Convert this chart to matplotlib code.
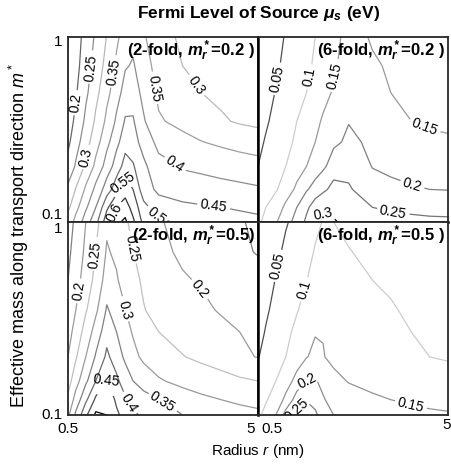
import numpy as np
import matplotlib
matplotlib.use('Agg')
import matplotlib.pyplot as plt
from matplotlib.transforms import ScaledTranslation

plt.rcParams['font.family'] = 'Liberation Sans'
plt.rcParams['mathtext.fontset'] = 'custom'
plt.rcParams['mathtext.rm'] = 'Liberation Sans'
plt.rcParams['mathtext.it'] = 'Liberation Sans:italic'
plt.rcParams['mathtext.bf'] = 'Liberation Sans:bold'
plt.rcParams['mathtext.bfit'] = 'Liberation Sans:italic:bold'

# grid of the simulation (nm, and m* in units of m0)
radius = [0.5, 0.55, 0.62, 0.7, 0.8, 0.9, 1.0, 1.1, 1.25, 1.5, 2.0, 2.5, 3.2, 4.0, 5.0]
mass = [0.1, 0.12, 0.15, 0.2, 0.27, 0.35, 0.5, 0.7, 1.0]

# source Fermi level (eV), one row per mass value
mu_2fold_02 = [
    [0.32, 0.366, 0.425, 0.485, 0.58, 0.64, 0.66, 0.61, 0.535, 0.51, 0.49, 0.48, 0.47, 0.465, 0.46],
    [0.29, 0.335, 0.392, 0.45, 0.54, 0.60, 0.625, 0.58, 0.515, 0.47, 0.46, 0.455, 0.45, 0.445, 0.44],
    [0.26, 0.303, 0.358, 0.413, 0.474, 0.528, 0.575, 0.55, 0.47, 0.44, 0.425, 0.418, 0.413, 0.41, 0.405],
    [0.215, 0.256, 0.309, 0.362, 0.421, 0.473, 0.52, 0.505, 0.46, 0.415, 0.395, 0.39, 0.383, 0.375, 0.37],
    [0.19, 0.23, 0.28, 0.33, 0.386, 0.436, 0.48, 0.47, 0.43, 0.385, 0.365, 0.352, 0.34, 0.33, 0.32],
    [0.175, 0.212, 0.26, 0.308, 0.361, 0.408, 0.455, 0.455, 0.405, 0.355, 0.335, 0.32, 0.305, 0.295, 0.29],
    [0.16, 0.195, 0.24, 0.286, 0.336, 0.38, 0.42, 0.425, 0.385, 0.34, 0.31, 0.3, 0.29, 0.28, 0.275],
    [0.152, 0.185, 0.227, 0.27, 0.317, 0.358, 0.395, 0.405, 0.37, 0.33, 0.3, 0.29, 0.28, 0.27, 0.265],
    [0.148, 0.179, 0.218, 0.258, 0.302, 0.34, 0.375, 0.385, 0.355, 0.32, 0.29, 0.28, 0.27, 0.265, 0.26],
]
mu_6fold_02 = [
    [0.09, 0.115, 0.145, 0.18, 0.22, 0.26, 0.3, 0.31, 0.305, 0.285, 0.265, 0.26, 0.258, 0.256, 0.255],
    [0.08, 0.1, 0.125, 0.16, 0.2, 0.24, 0.275, 0.29, 0.285, 0.27, 0.25, 0.245, 0.242, 0.24, 0.24],
    [0.065, 0.078, 0.095, 0.125, 0.16, 0.195, 0.22, 0.24, 0.265, 0.255, 0.22, 0.21, 0.203, 0.2, 0.198],
    [0.05, 0.06, 0.075, 0.1, 0.125, 0.15, 0.17, 0.19, 0.225, 0.235, 0.198, 0.19, 0.185, 0.182, 0.18],
    [0.045, 0.052, 0.065, 0.085, 0.11, 0.13, 0.15, 0.168, 0.19, 0.21, 0.19, 0.172, 0.162, 0.157, 0.155],
    [0.04, 0.047, 0.057, 0.074, 0.1, 0.12, 0.14, 0.155, 0.175, 0.198, 0.178, 0.16, 0.15, 0.145, 0.142],
    [0.035, 0.041, 0.051, 0.065, 0.082, 0.1, 0.118, 0.135, 0.155, 0.185, 0.165, 0.15, 0.145, 0.14, 0.135],
    [0.03, 0.036, 0.045, 0.057, 0.073, 0.09, 0.107, 0.122, 0.143, 0.172, 0.155, 0.145, 0.14, 0.135, 0.13],
    [0.025, 0.032, 0.042, 0.052, 0.068, 0.085, 0.1, 0.115, 0.135, 0.168, 0.145, 0.14, 0.135, 0.13, 0.125],
]
mu_2fold_05 = [
    [0.29, 0.36, 0.44, 0.51, 0.5, 0.46, 0.43, 0.41, 0.39, 0.37, 0.35, 0.335, 0.325, 0.315, 0.31],
    [0.26, 0.32, 0.39, 0.46, 0.49, 0.44, 0.405, 0.38, 0.37, 0.35, 0.325, 0.31, 0.3, 0.292, 0.285],
    [0.23, 0.28, 0.34, 0.4, 0.45, 0.41, 0.375, 0.35, 0.325, 0.305, 0.285, 0.275, 0.265, 0.257, 0.25],
    [0.2, 0.245, 0.3, 0.355, 0.41, 0.375, 0.34, 0.313, 0.29, 0.27, 0.252, 0.24, 0.228, 0.208, 0.198],
    [0.18, 0.22, 0.27, 0.32, 0.38, 0.35, 0.318, 0.295, 0.272, 0.25, 0.232, 0.222, 0.21, 0.2, 0.192],
    [0.165, 0.2, 0.245, 0.29, 0.355, 0.33, 0.3, 0.28, 0.252, 0.235, 0.22, 0.208, 0.196, 0.185, 0.178],
    [0.15, 0.182, 0.222, 0.265, 0.322, 0.305, 0.278, 0.262, 0.243, 0.222, 0.205, 0.195, 0.175, 0.166, 0.16],
    [0.14, 0.17, 0.21, 0.25, 0.305, 0.29, 0.265, 0.25, 0.233, 0.213, 0.19, 0.178, 0.167, 0.155, 0.148],
    [0.13, 0.16, 0.2, 0.235, 0.29, 0.28, 0.255, 0.24, 0.225, 0.205, 0.18, 0.17, 0.16, 0.152, 0.145],
]
mu_6fold_05 = [
    [0.09, 0.115, 0.15, 0.22, 0.265, 0.28, 0.26, 0.225, 0.2, 0.18, 0.168, 0.162, 0.158, 0.155, 0.153],
    [0.075, 0.095, 0.125, 0.16, 0.225, 0.245, 0.23, 0.205, 0.18, 0.165, 0.155, 0.15, 0.145, 0.142, 0.14],
    [0.06, 0.078, 0.1, 0.13, 0.165, 0.2, 0.205, 0.185, 0.16, 0.148, 0.14, 0.133, 0.125, 0.118, 0.112],
    [0.048, 0.062, 0.082, 0.1, 0.125, 0.148, 0.16, 0.152, 0.14, 0.13, 0.118, 0.11, 0.104, 0.1, 0.097],
    [0.04, 0.052, 0.07, 0.09, 0.11, 0.13, 0.147, 0.148, 0.145, 0.135, 0.122, 0.113, 0.1, 0.095, 0.092],
    [0.035, 0.045, 0.06, 0.078, 0.097, 0.115, 0.13, 0.14, 0.138, 0.127, 0.113, 0.102, 0.096, 0.09, 0.087],
    [0.03, 0.038, 0.051, 0.066, 0.083, 0.099, 0.113, 0.122, 0.122, 0.113, 0.1, 0.096, 0.092, 0.089, 0.087],
    [0.025, 0.033, 0.043, 0.056, 0.072, 0.088, 0.103, 0.112, 0.11, 0.101, 0.094, 0.09, 0.087, 0.085, 0.083],
    [0.02, 0.027, 0.037, 0.047, 0.06, 0.075, 0.09, 0.102, 0.1, 0.094, 0.088, 0.085, 0.082, 0.08, 0.078],
]

levels = [0.05, 0.1, 0.15, 0.2, 0.25, 0.3, 0.35, 0.4, 0.45, 0.5, 0.55, 0.6, 0.65]

# gray shade of each level, per panel (same order as levels)
grays_2fold_02 = [0.4, 0.45, 0.45, 0.4, 0.55, 0.72, 0.62, 0.55, 0.5, 0.42, 0.3, 0.2, 0.0]
grays_6fold_02 = [0.3, 0.8, 0.6, 0.5, 0.45, 0.0, 0.0, 0.0, 0.0, 0.0, 0.0, 0.0, 0.0]
grays_2fold_05 = [0.4, 0.5, 0.5, 0.6, 0.75, 0.6, 0.5, 0.42, 0.3, 0.0, 0.0, 0.0, 0.0]
grays_6fold_05 = [0.3, 0.8, 0.58, 0.55, 0.5, 0.0, 0.0, 0.0, 0.0, 0.0, 0.0, 0.0, 0.0]

# where the contour labels sit, as fractions of each panel (x, y)
labels_2fold_02 = [(0.14, 0.83), (0.25, 0.81), (0.44, 0.72), (0.68, 0.74), (0.063, 0.64),
                   (0.095, 0.35), (0.54, 0.28), (0.29, 0.21), (0.27, 0.04), (0.48, 0.05), (0.76, 0.05)]
labels_6fold_02 = [(0.11, 0.77), (0.29, 0.78), (0.44, 0.78), (0.84, 0.43), (0.8, 0.16),
                   (0.71, 0.05), (0.35, 0.06)]
labels_2fold_05 = [(0.14, 0.83), (0.29, 0.855), (0.063, 0.64), (0.28, 0.54), (0.68, 0.64),
                   (0.19, 0.19), (0.32, 0.06), (0.5, 0.07)]
labels_6fold_05 = [(0.11, 0.77), (0.24, 0.65), (0.26, 0.18), (0.2, 0.03), (0.8, 0.04)]

panels = [
    (mu_2fold_02, grays_2fold_02, labels_2fold_02, r'(2-fold, $\mathbfit{m^*_r}$=0.2 )'),
    (mu_6fold_02, grays_6fold_02, labels_6fold_02, r'(6-fold, $\mathbfit{m^*_r}$=0.2 )'),
    (mu_2fold_05, grays_2fold_05, labels_2fold_05, r'(2-fold, $\mathbfit{m^*_r}$=0.5)'),
    (mu_6fold_05, grays_6fold_05, labels_6fold_05, r'(6-fold, $\mathbfit{m^*_r}$=0.5 )'),
]

fig = plt.figure(figsize=(4.52, 4.68), dpi=100)
gs = fig.add_gridspec(2, 2, left=68 / 452, right=448 / 452, top=1 - 37 / 468, bottom=1 - 415 / 468,
                      hspace=0, wspace=0, height_ratios=[185, 193])

R, M = np.meshgrid(radius, mass)

for i, (mu, grays, lab_pos, title) in enumerate(panels):
    ax = fig.add_subplot(gs[i // 2, i % 2])
    ax.set_xscale('log')
    ax.set_yscale('log')
    ax.set_xlim(0.5, 5)
    ax.set_ylim(0.1, 1)
    Z = np.array(mu)
    lv = [l for l in levels if Z.min() < l < Z.max()]
    cols = [str(grays[levels.index(l)]) for l in lv]
    cs = ax.contour(R, M, Z, levels=lv, colors=cols, linewidths=0.9)
    manual = [(0.5 * 10 ** fx, 10 ** (fy - 1)) for fx, fy in lab_pos]
    ax.clabel(cs, inline=True, fontsize=10, fmt='%g', manual=manual, inline_spacing=3, colors='k')
    ax.set_xticks([0.5, 5])
    ax.set_xticklabels(['0.5', '5'])
    ax.set_yticks([0.1, 1])
    ax.set_yticklabels(['0.1', '1'])
    ax.minorticks_off()
    ax.tick_params(length=0, labelsize=11, pad=4)
    for s in ax.spines.values():
        s.set_color('0.15')
        s.set_linewidth(1.3)
    ax.text(0.985, 0.99, title, transform=ax.transAxes, ha='right', va='top',
            fontsize=12, fontweight='bold')
    if i < 2:
        ax.tick_params(labelbottom=False)
        ax.spines['bottom'].set_color('k')
        ax.spines['bottom'].set_linewidth(1.8)
    else:
        ax.tick_params(axis='x', pad=5)
        xl = ax.get_xticklabels()
        if i == 2:
            xl[1].set_ha('right')
            xl[1].set_transform(xl[1].get_transform() + ScaledTranslation(-3 / 100, 0, fig.dpi_scale_trans))
        else:
            xl[0].set_ha('left')
            xl[0].set_transform(xl[0].get_transform() + ScaledTranslation(3 / 100, 0, fig.dpi_scale_trans))
            xl[1].set_transform(xl[1].get_transform() + ScaledTranslation(-1 / 100, 4 / 100, fig.dpi_scale_trans))
    if i % 2 == 1:
        ax.tick_params(labelleft=False)
        ax.spines['left'].set_color('k')
        ax.spines['left'].set_linewidth(1.8)
    else:
        yl = ax.get_yticklabels()
        yl[0].set_va('bottom' if i == 0 else 'center')
        if i == 0:
            yl[1].set_transform(yl[1].get_transform() + ScaledTranslation(0, -3 / 100, fig.dpi_scale_trans))
        else:
            yl[1].set_va('top')

fig.text(0.571, 0.972, r'Fermi Level of Source $\mathbfit{\mu_s}$ (eV)', ha='center', va='center',
         fontsize=12.5, fontweight='bold')
fig.text(0.571, 0.036, r'Radius $r$ (nm)', ha='center', va='center', fontsize=11)
fig.text(0.042, 0.496, r'Effective mass along transport direction $m^*$', rotation=90,
         ha='center', va='center', fontsize=13)

fig.savefig('out.png', dpi=100)
